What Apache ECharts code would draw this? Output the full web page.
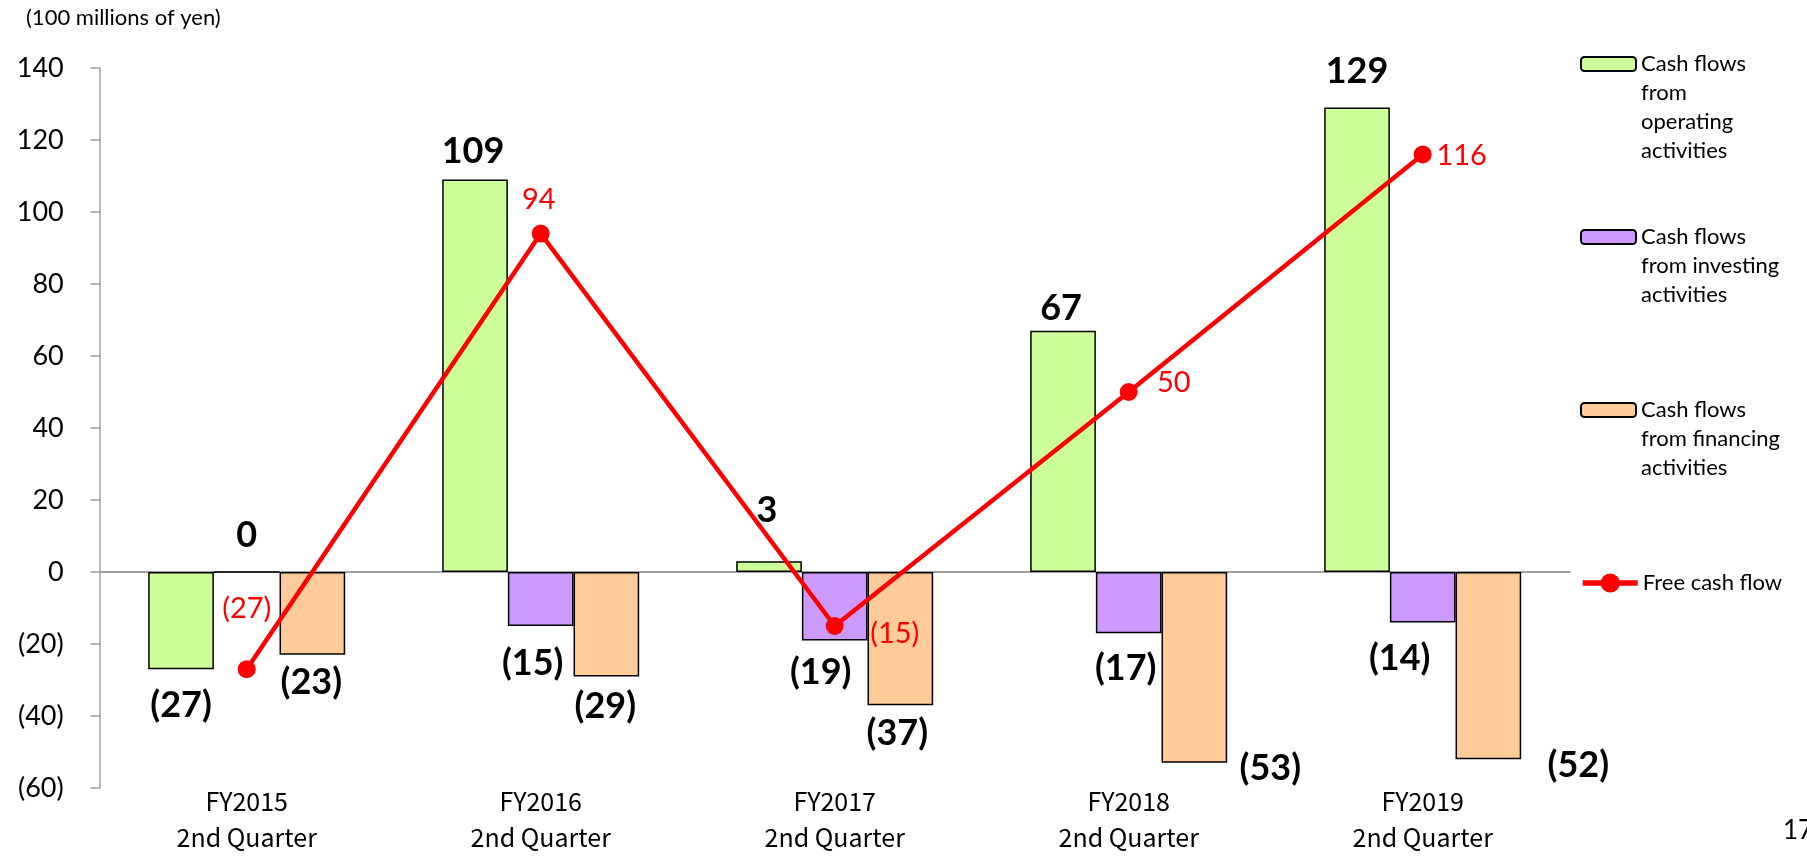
<!DOCTYPE html>
<html>
<head>
<meta charset="utf-8">
<script src="https://cdn.jsdelivr.net/npm/echarts@6/dist/echarts.min.js"></script>
<style>
  html, body { margin: 0; padding: 0; background: #fff; }
  #chart { width: 1807px; height: 858px; }
</style>
</head>
<body>
<div id="chart"></div>
<script>
// Semi-annual cash flow summary (100 millions of yen)
const categories = ['FY2015\n2nd Quarter', 'FY2016\n2nd Quarter', 'FY2017\n2nd Quarter', 'FY2018\n2nd Quarter', 'FY2019\n2nd Quarter'];
const operating = [-27, 109, 3, 67, 129];
const investing = [0, -15, -19, -17, -14];
const financing = [-23, -29, -37, -53, -52];
const freeCashFlow = [-27, 94, -15, 50, 116];

const seriesNames = [
  'Cash flows from operating activities',
  'Cash flows from investing activities',
  'Cash flows from financing activities',
  'Free cash flow'
];
const legendText = [
  'Cash flows\nfrom\noperating\nactivities',
  'Cash flows\nfrom investing\nactivities',
  'Cash flows\nfrom financing\nactivities',
  'Free cash flow'
];

// Hand-placed label nudges [dx, dy] from each mark's outer end
const opShift  = [[0, 36], [-2, -28], [-2, -51], [-2, -22], [0, -36]];
const invShift = [[0, -36], [-8, 37], [-14, 32], [-3, 35], [-23, 36]];
const finShift = [[-1, 28], [-1, 30], [-3, 28], [76, 6], [90, 6]];
const fcfShift = [[0, -61], [-2, -34], [60, 8], [45, -9], [39, 1]];

const FONT = 'Lato, "Open Sans", sans-serif';
const fmt = v => (v < 0 ? '(' + Math.abs(v) + ')' : String(v));

function barData(values, shifts) {
  return values.map((v, i) => ({
    value: v,
    label: { position: v < 0 ? 'bottom' : 'top', offset: shifts[i] }
  }));
}

const barLabel = {
  show: true,
  distance: 0,
  align: 'center',
  verticalAlign: 'middle',
  fontFamily: FONT,
  fontSize: 36,
  fontWeight: 'bold',
  color: '#000',
  formatter: p => fmt(p.value)
};

function barSeries(name, values, shifts, color) {
  return {
    name: name,
    type: 'bar',
    xAxisIndex: 0,
    barGap: '0%',
    barCategoryGap: '33%',
    itemStyle: { color: color, borderColor: '#000', borderWidth: 1.5 },
    label: barLabel,
    data: barData(values, shifts),
    z: 3
  };
}

// Legend blocks: blank lines above the text keep the key level with the first line
const LH = 29;
const legendFirstLineY = [64, 237, 410, 583];
const legends = seriesNames.map((name, i) => {
  const lines = legendText[i].split('\n');
  const n = lines.length;
  const isLine = i === 3;
  const padded = new Array(n - 1).fill(' ').concat(lines).join('\n');
  return {
    data: [name],
    orient: 'vertical',
    left: 1580,
    top: legendFirstLineY[i] - ((2 * n - 1) * LH) / 2,
    padding: 0,
    itemWidth: 55,
    itemHeight: isLine ? 24 : 14,
    itemGap: 6,
    selectedMode: false,
    formatter: () => padded,
    lineStyle: isLine ? { width: 5.5, color: '#ff0000' } : undefined,
    textStyle: {
      fontFamily: FONT,
      fontSize: 22,
      color: '#000',
      lineHeight: LH
    }
  };
});

const chart = echarts.init(document.getElementById('chart'), null, { renderer: 'canvas' });
chart.setOption({
  animation: false,
  backgroundColor: '#fff',
  title: {
    text: '(100 millions of yen)',
    left: 21,
    top: 2,
    textStyle: { fontFamily: FONT, fontSize: 22, fontWeight: 'normal', color: '#000' }
  },
  legend: legends,
  grid: {
    left: 99.7,
    top: 68,
    width: 1470,
    height: 720,
    containLabel: false,
    outerBoundsMode: 'none'
  },
  xAxis: [
    {
      type: 'category',
      data: categories,
      position: 'bottom',
      axisLine: { show: false, onZero: false },
      axisTick: { show: false },
      axisLabel: {
        margin: -5,
        fontFamily: '"Noto Sans CJK JP", sans-serif',
        fontSize: 25,
        lineHeight: 36,
        color: '#000'
      }
    },
    {
      type: 'category',
      data: categories,
      position: 'bottom',
      axisLine: { show: true, onZero: true, lineStyle: { color: '#a0a0a0', width: 2 } },
      axisTick: { show: false },
      axisLabel: { show: false }
    }
  ],
  yAxis: {
    type: 'value',
    min: -60,
    max: 140,
    interval: 20,
    axisLine: { show: true, lineStyle: { color: '#a0a0a0', width: 1.5 } },
    axisTick: { show: true, inside: false, length: 9, lineStyle: { color: '#a0a0a0', width: 1.5 } },
    splitLine: { show: false },
    axisLabel: {
      margin: 36,
      fontFamily: FONT,
      fontSize: 27,
      color: '#000',
      formatter: v => fmt(v)
    }
  },
  series: [
    barSeries(seriesNames[0], operating, opShift, '#ccff99'),
    barSeries(seriesNames[1], investing, invShift, '#cc99ff'),
    barSeries(seriesNames[2], financing, finShift, '#ffcc99'),
    {
      name: seriesNames[3],
      type: 'line',
      xAxisIndex: 0,
      symbol: 'circle',
      symbolSize: 18,
      itemStyle: { color: '#ff0000' },
      lineStyle: { color: '#ff0000', width: 4.5 },
      label: {
        show: true,
        position: 'inside',
        align: 'center',
        verticalAlign: 'middle',
        fontFamily: FONT,
        fontSize: 29,
        color: '#ff0000',
        formatter: p => fmt(p.value)
      },
      data: freeCashFlow.map((v, i) => ({ value: v, label: { offset: fcfShift[i] } })),
      z: 5
    }
  ],
  graphic: [
    {
      type: 'text',
      left: 1783,
      top: 818,
      style: { text: '17', font: '26px ' + FONT, fill: '#000' }
    }
  ]
});
</script>
</body>
</html>
